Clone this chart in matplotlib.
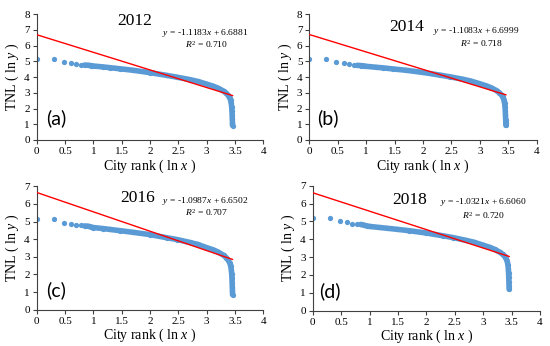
import numpy as np
import matplotlib
matplotlib.use("Agg")
import matplotlib.pyplot as plt

plt.rcParams['font.family'] = ['Liberation Serif', 'DejaVu Serif']
plt.rcParams['mathtext.fontset'] = 'custom'
plt.rcParams['mathtext.rm'] = 'Liberation Serif'
plt.rcParams['mathtext.it'] = 'Liberation Serif:italic'

# city ranks at which the TNL curve was read (x axis is log10 of rank)
ranks = [1, 2, 3, 4, 5, 6, 7, 8, 9, 10, 15, 20, 30, 50, 100, 200, 300, 500, 700,
         1000, 1300, 1600, 2000, 2200, 2400, 2550, 2650, 2720, 2770, 2800, 2820,
         2840, 2855, 2865]

tnl_2012 = [5.12, 5.12, 4.95, 4.87, 4.83, 4.78, 4.76, 4.75, 4.73, 4.70, 4.64, 4.59,
            4.52, 4.43, 4.28, 4.10, 3.99, 3.84, 3.72, 3.55, 3.42, 3.29, 3.10, 2.98,
            2.84, 2.68, 2.52, 2.32, 2.08, 1.82, 1.58, 1.32, 1.10, 0.92]
tnl_2014 = [5.12, 5.12, 4.95, 4.87, 4.80, 4.76, 4.74, 4.73, 4.71, 4.68, 4.62, 4.58,
            4.51, 4.43, 4.29, 4.12, 4.01, 3.86, 3.74, 3.57, 3.44, 3.31, 3.12, 3.00,
            2.86, 2.70, 2.53, 2.32, 2.08, 1.82, 1.56, 1.30, 1.10, 0.93]
tnl_2016 = [5.12, 5.12, 4.94, 4.85, 4.81, 4.78, 4.75, 4.74, 4.70, 4.66, 4.60, 4.55,
            4.48, 4.39, 4.26, 4.08, 3.98, 3.82, 3.70, 3.52, 3.40, 3.27, 3.08, 2.96,
            2.82, 2.66, 2.50, 2.28, 2.04, 1.78, 1.52, 1.26, 1.04, 0.85]
tnl_2018 = [5.20, 5.18, 5.03, 4.94, 4.88, 4.85, 4.83, 4.79, 4.75, 4.72, 4.66, 4.62,
            4.56, 4.48, 4.35, 4.19, 4.09, 3.94, 3.83, 3.67, 3.55, 3.43, 3.26, 3.16,
            3.04, 2.90, 2.76, 2.58, 2.36, 2.12, 1.88, 1.62, 1.38, 1.20]

years = ['2012', '2014', '2016', '2018']
letters = ['(a)', '(b)', '(c)', '(d)']
slopes = [-1.1183, -1.1083, -1.0987, -1.0321]
intercepts = [6.6881, 6.6999, 6.6502, 6.6060]
r2_values = ['0.710', '0.718', '0.707', '0.720']
series = [tnl_2012, tnl_2014, tnl_2016, tnl_2018]
y_tops = [8, 8, 7, 7]

# layout (figure fractions) and text positions (data coords)
positions = [[0.0667, 0.5954, 0.412, 0.364],
             [0.5624, 0.5954, 0.4135, 0.364],
             [0.0667, 0.1049, 0.412, 0.3567],
             [0.5685, 0.1020, 0.4133, 0.3613]]
title_xy = [(1.73, 7.57), (1.71, 7.19), (1.79, 6.34), (1.71, 6.21)]
eq_xy = [(2.97, 6.80), (2.94, 6.91), (2.98, 6.18), (3.0, 6.06)]
r2_xy = [(3.0, 6.08), (3.03, 6.14), (3.0, 5.52), (3.0, 5.32)]
letter_xy = [(0.35, 1.38), (0.33, 1.38), (0.35, 1.13), (0.30, 1.09)]

blue = '#5B9BD5'
axis_col = '#404040'

fig = plt.figure(figsize=(5.5, 3.46), dpi=100)
x = np.log10(ranks)

for i in range(4):
    ax = fig.add_axes(positions[i])
    y = np.array(series[i])
    # dense part of the rank curve drawn as a thick band, plus the points
    ax.plot(x[6:], y[6:], color=blue, lw=4.0, solid_capstyle='round', zorder=2)
    ax.plot(x, y, 'o', color=blue, ms=3.8, mew=0, zorder=2)
    xl = np.array([0, x[-1]])
    ax.plot(xl, slopes[i] * xl + intercepts[i], color='red', lw=1.0, zorder=3)

    ax.set_xlim(0, 4)
    ax.set_ylim(0, y_tops[i])
    ax.set_xticks(np.arange(0, 4.01, 0.5))
    ax.set_xticklabels(['0', '0.5', '1', '1.5', '2', '2.5', '3', '3.5', '4'])
    ax.set_yticks(range(0, y_tops[i] + 1))
    for s in ['top', 'right']:
        ax.spines[s].set_visible(False)
    for s in ['left', 'bottom']:
        ax.spines[s].set_color(axis_col)
        ax.spines[s].set_linewidth(0.8)
    ax.tick_params(direction='out', length=3, width=0.8, color=axis_col,
                   labelsize=8, pad=2)
    ax.set_xlabel('City rank ( ln $x$ )', fontsize=10, labelpad=1)
    ax.set_ylabel('TNL ( ln $y$ )', fontsize=10, labelpad=2)

    ax.text(*title_xy[i], years[i], fontsize=12.5, ha='center', va='center')
    ax.text(*eq_xy[i], '$y$ = %.4f$x$ + %.4f' % (slopes[i], intercepts[i]),
            fontsize=6.8, ha='center', va='center')
    ax.text(*r2_xy[i], '$R^2$ = ' + r2_values[i], fontsize=6.8, ha='center', va='center')
    ax.text(*letter_xy[i], letters[i], fontsize=14, family='Lato',
            ha='center', va='center')

fig.savefig('out.png', dpi=100)
